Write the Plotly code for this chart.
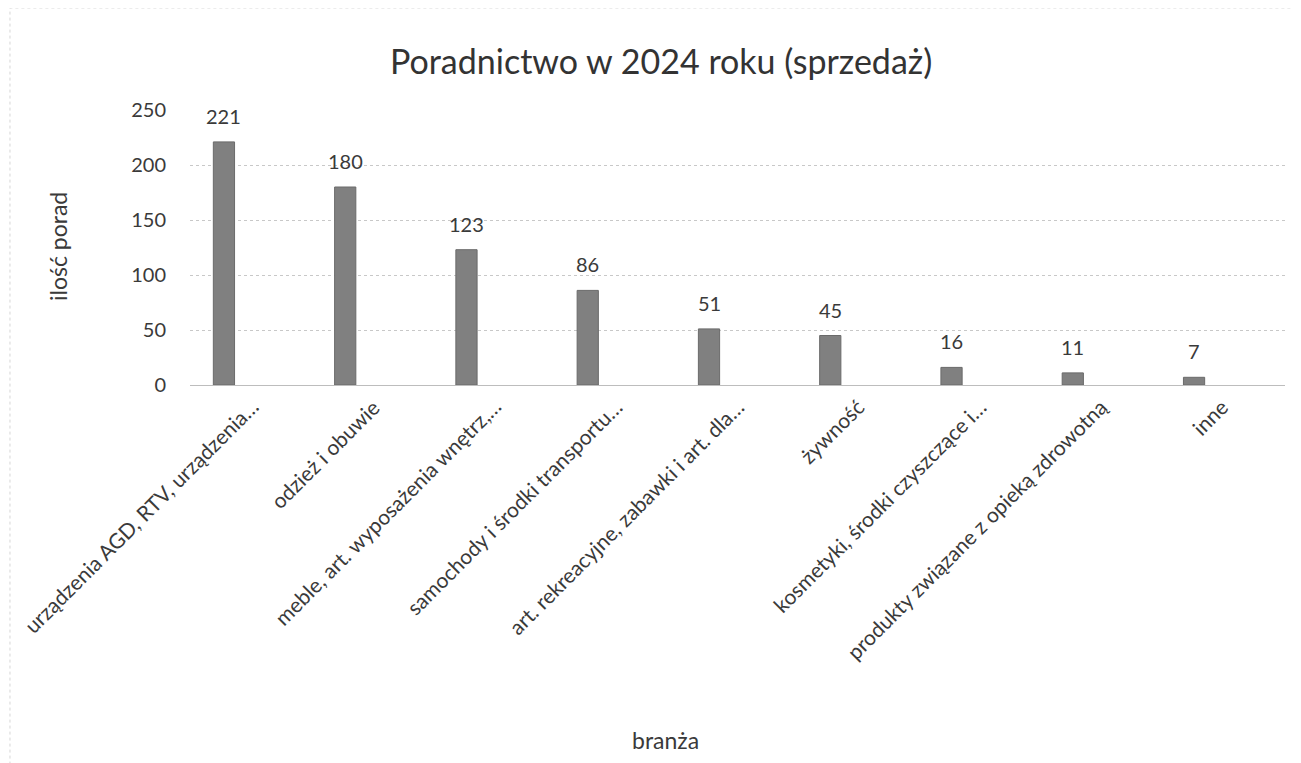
import plotly.graph_objects as go

# data
branze = [
    "urządzenia AGD, RTV, urządzenia…",
    "odzież i obuwie",
    "meble, art. wyposażenia wnętrz,…",
    "samochody i środki transportu…",
    "art. rekreacyjne, zabawki i art. dla…",
    "żywność",
    "kosmetyki, środki czyszczące i…",
    "produkty związane z opieką zdrowotną",
    "inne",
]
ilosc_porad = [221, 180, 123, 86, 51, 45, 16, 11, 7]
y_ticks = [0, 50, 100, 150, 200, 250]

FONT = "Lato"
TXT = "#3a3a3a"

fig = go.Figure()
fig.add_trace(
    go.Bar(x=branze,
           y=ilosc_porad,
           width=0.175,
           marker=dict(color="#808080", line=dict(color="#6a6a6a", width=1)),
           name="ilość porad"))

# value labels above the bars
for kat, val in zip(branze, ilosc_porad):
    fig.add_annotation(x=kat, y=val, text=str(val), showarrow=False,
                       yanchor="bottom", yshift=12,
                       font=dict(size=20, family=FONT, color=TXT))

# category labels, rotated like in Excel (end of text a bit right of the tick)
for kat in branze:
    fig.add_annotation(x=kat, y=0, text=kat, textangle=-45, showarrow=False,
                       xanchor="right", yanchor="top", xshift=42, yshift=-6,
                       font=dict(size=21, family=FONT, color=TXT))

fig.update_layout(
    width=1301,
    height=763,
    paper_bgcolor="white",
    plot_bgcolor="white",
    showlegend=False,
    margin=dict(l=182, r=24, t=102, b=386),
    font=dict(family=FONT, color=TXT, size=18),
    title=dict(text="Poradnictwo w 2024 roku (sprzedaż)",
               x=0.502,
               xanchor="center",
               y=1 - 54 / 763,
               yanchor="middle",
               font=dict(size=34, family=FONT, color="#333333")))

fig.update_xaxes(range=[-0.28, 8.75],
                 showticklabels=False,
                 showgrid=False,
                 showline=False,
                 ticks="",
                 automargin=False)

fig.update_yaxes(range=[0, 250],
                 tickvals=y_ticks,
                 tickfont=dict(size=20, family=FONT, color=TXT),
                 showgrid=True,
                 gridcolor="#c8c8c8",
                 griddash="dot",
                 gridwidth=1,
                 zeroline=True,
                 zerolinecolor="#bdbdbd",
                 zerolinewidth=1,
                 ticks="",
                 ticklabelstandoff=23,
                 automargin=False)

# axis titles
fig.add_annotation(xref="paper", yref="paper", x=-0.1205, y=0.502,
                   text="ilość porad", textangle=-90, showarrow=False,
                   xanchor="center", yanchor="middle",
                   font=dict(size=23, family=FONT, color=TXT))
fig.add_annotation(xref="paper", yref="paper", x=0.434, y=-1.291,
                   text="branża", showarrow=False,
                   xanchor="center", yanchor="middle",
                   font=dict(size=23, family=FONT, color=TXT))

# faint dotted frame of the chart area, as on the scanned page
fig.add_shape(type="rect", xref="paper", yref="paper",
              x0=-0.1644, x1=1.011, y0=-1.43, y1=1.371,
              line=dict(color="#d6d6d6", width=1, dash="dot"))

fig.write_html("out.html")
